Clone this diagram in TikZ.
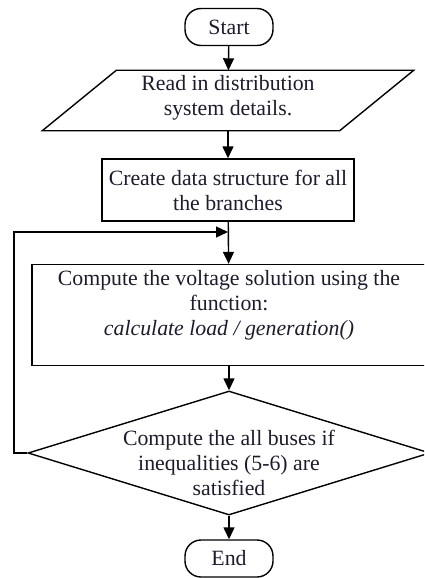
\documentclass[tikz,border=0pt]{standalone}
\usepackage{fontspec}
\setmainfont{Liberation Serif}
\usetikzlibrary{arrows.meta,shapes.geometric}
\definecolor{txt}{RGB}{28,28,44}
\begin{document}
\begin{tikzpicture}[x=1pt,y=-1pt,
  line width=1.4pt,
  every node/.style={font=\fontsize{21.8}{25}\selectfont, text=txt, inner sep=0pt, align=center},
  term/.style={draw, rounded corners=16pt, minimum width=88pt, minimum height=37pt},
  proc/.style={draw, rectangle},
  dec/.style={draw, diamond, minimum width=402pt, minimum height=124pt},
  arr/.style={-{Triangle[length=12pt,width=11pt]}}
]
\clip (0,0) rectangle (424,578);
\node[term] (start) at (229,27) {Start};
\node[minimum width=296pt, minimum height=59pt] (read) at (228,100.5) {};
\draw ([xshift=37pt]read.north west) -- ([xshift=37pt]read.north east)
  -- ([xshift=-37pt]read.south east) -- ([xshift=-37pt]read.south west) -- cycle;
\node (readt) at (228,98) {Read in distribution\\system details.};
\node[proc, minimum width=252pt, minimum height=62pt] (create) at (228,190) {Create data structure for all\\the branches};
\node[proc, minimum width=394pt, minimum height=101pt] (comp) at (229,315) {};
\node (compt) at (229,305) {Compute the voltage solution using the\\function:\\\textit{calculate load / generation()}};
\node[dec] (check) at (229,453) {};
\node (checkt) at (229,463) {Compute the all buses if\\inequalities (5-6) are\\satisfied};
\node[term] (end) at (229,558.5) {End};
\coordinate (loopin) at (228,232);
\coordinate (loopl) at (14,453);
\coordinate (loopt) at (14,232);
\draw[arr] (start) -- (read);
\draw[arr] (read) -- (create);
\draw[arr] (create) -- (comp);
\draw[arr] (comp) -- (check);
\draw[arr] (check) -- (end);
\draw[arr] (check.west) -- (loopl) -- (loopt) -- (loopin);
\end{tikzpicture}
\end{document}
